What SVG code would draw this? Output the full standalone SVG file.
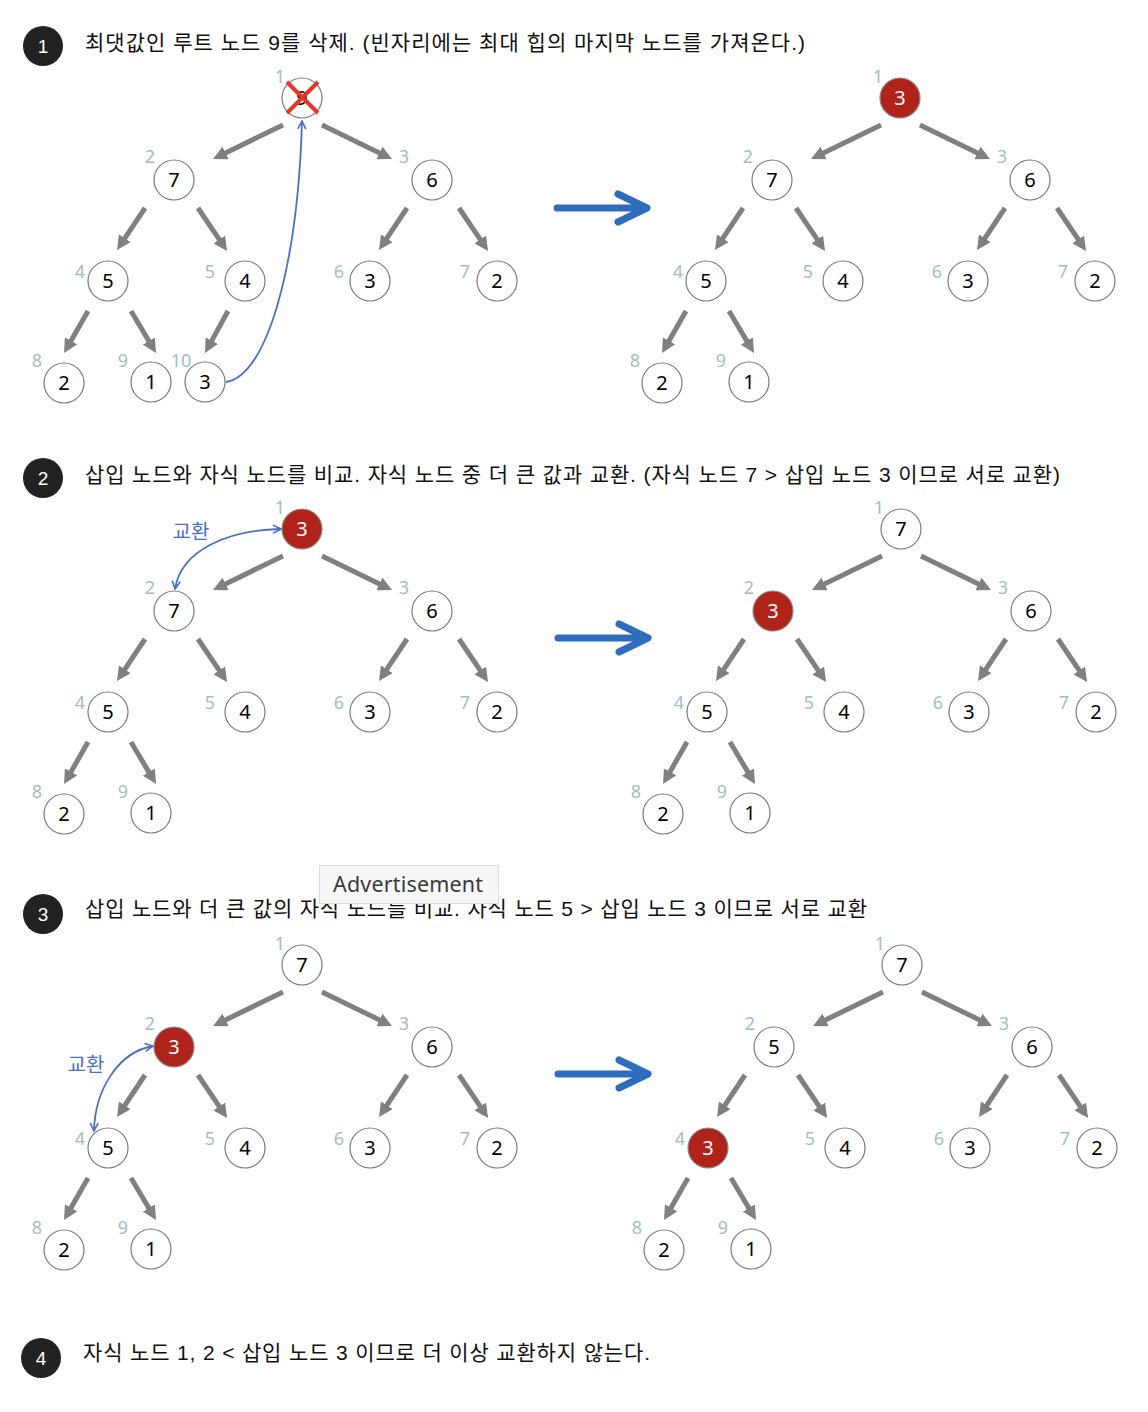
<svg xmlns="http://www.w3.org/2000/svg" width="1148" height="1412" viewBox="0 0 1148 1412">
<style>
.hd{font-family:"Liberation Sans","Noto Sans CJK KR",sans-serif;font-size:21px;fill:#111}
.stp circle{fill:#222}
.stp text{font-family:"Liberation Sans",sans-serif;font-size:19px;fill:#fff;text-anchor:middle}
.nd circle{fill:#fff;stroke:#7a7a7a;stroke-width:1.2}
.nd.red circle{fill:#b0231a;stroke:#8a8a8a}
.nd text.v{font-family:"Noto Sans","Open Sans",sans-serif;font-size:20px;fill:#000;text-anchor:middle}
.nd.red text.v{fill:#fff}
.nd text.i{font-family:"Noto Sans","Open Sans",sans-serif;font-size:18px;fill:#a3bec2;text-anchor:middle}
.ga{stroke:#808080;stroke-width:5;fill:none;marker-end:url(#gah)}
.big{stroke:#2e6dbd;stroke-width:7;fill:none;stroke-linecap:round;stroke-linejoin:round}
.sw{stroke:#4a6fc7;stroke-width:1.8;fill:none}
.swl{font-family:"Noto Sans CJK KR",sans-serif;font-size:20px;fill:#4a6fc7;text-anchor:middle}
</style>
<defs>
<marker id="gah" markerUnits="userSpaceOnUse" viewBox="0 0 14 14" markerWidth="14" markerHeight="14" refX="3" refY="7" orient="auto"><path d="M0,0 L14,7 L0,14 z" fill="#808080"/></marker>
<marker id="bah" markerUnits="userSpaceOnUse" viewBox="0 0 10 10" markerWidth="10" markerHeight="10" refX="9" refY="5" orient="auto-start-reverse"><path d="M1,1 L9,5 L1,9" fill="none" stroke="#4a6fc7" stroke-width="1.6"/></marker>
<g id="edges8">
<line class="ga" x1="283" y1="125" x2="222.9" y2="154.2"/>
<line class="ga" x1="322" y1="125" x2="382.1" y2="154.2"/>
<line class="ga" x1="145" y1="208" x2="123.1" y2="240.8"/>
<line class="ga" x1="198" y1="208" x2="220.9" y2="241.9"/>
<line class="ga" x1="407" y1="208" x2="385.1" y2="240.8"/>
<line class="ga" x1="459" y1="208" x2="481.9" y2="241.9"/>
<line class="ga" x1="88" y1="311" x2="69.5" y2="343.5"/>
<line class="ga" x1="131" y1="311" x2="150.4" y2="343.6"/>
</g>
</defs>

<!-- headers -->
<g id="step1" class="stp"><circle cx="43" cy="46" r="20"/><text x="43" y="53">1</text></g>
<text class="hd" x="85" y="50" textLength="720">최댓값인 루트 노드 9를 삭제. (빈자리에는 최대 힙의 마지막 노드를 가져온다.)</text>
<g id="step2" class="stp"><circle cx="43" cy="478" r="20"/><text x="43" y="485">2</text></g>
<text class="hd" x="85" y="482" textLength="975">삽입 노드와 자식 노드를 비교. 자식 노드 중 더 큰 값과 교환. (자식 노드 7 &gt; 삽입 노드 3 이므로 서로 교환)</text>
<g id="step3" class="stp"><circle cx="43" cy="914" r="20"/><text x="43" y="921">3</text></g>
<text class="hd" x="85" y="916" textLength="782">삽입 노드와 더 큰 값의 자식 노드를 비교. 자식 노드 5 &gt; 삽입 노드 3 이므로 서로 교환</text>
<g id="step4" class="stp"><circle cx="41" cy="1358" r="20"/><text x="41" y="1365">4</text></g>
<text class="hd" x="83" y="1360" textLength="567">자식 노드 1, 2 &lt; 삽입 노드 3 이므로 더 이상 교환하지 않는다.</text>

<!-- connectors -->
<g id="connectors">
<g transform="translate(0,0)"><use href="#edges8"/><line class="ga" x1="228" y1="311" x2="210.3" y2="343.4"/></g>
<g transform="translate(598,0)"><use href="#edges8"/></g>
<g transform="translate(0,431)"><use href="#edges8"/></g>
<g transform="translate(599,431)"><use href="#edges8"/></g>
<g transform="translate(0,867)"><use href="#edges8"/></g>
<g transform="translate(600,867)"><use href="#edges8"/></g>
<path class="sw" d="M226,382 C268,376 298,262 302,121" marker-end="url(#bah)"/>
<path class="sw" d="M175,589 C181,550 228,530 281,529" marker-start="url(#bah)" marker-end="url(#bah)"/>
<path class="sw" d="M153,1046 C118,1052 95,1090 94,1131" marker-start="url(#bah)" marker-end="url(#bah)"/>
<path class="big" d="M557,208 L645,208 M618,194 L647,208 L618,222"/>
<path class="big" d="M558,638 L646,638 M619,624 L648,638 L619,652"/>
<path class="big" d="M558,1074 L646,1074 M619,1060 L648,1074 L619,1088"/>
</g>
<text class="swl" x="191" y="539">교환</text>
<text class="swl" x="86" y="1072">교환</text>

<!-- Section 1 left -->
<g id="tree1a">
<g id="t1a-n1" class="nd"><circle cx="302" cy="98" r="20"/><text class="v" x="302" y="105">9</text><text class="i" x="280" y="83">1</text>
<path d="M287,82 L318,113 M318,82 L287,113" stroke="#e8352a" stroke-width="4" fill="none"/></g>
<g id="t1a-n2" class="nd"><circle cx="174" cy="180" r="20"/><text class="v" x="174" y="187">7</text><text class="i" x="150" y="163">2</text></g>
<g id="t1a-n3" class="nd"><circle cx="432" cy="180" r="20"/><text class="v" x="432" y="187">6</text><text class="i" x="404" y="163">3</text></g>
<g id="t1a-n4" class="nd"><circle cx="108" cy="281" r="20"/><text class="v" x="108" y="288">5</text><text class="i" x="80" y="278">4</text></g>
<g id="t1a-n5" class="nd"><circle cx="245" cy="281" r="20"/><text class="v" x="245" y="288">4</text><text class="i" x="210" y="278">5</text></g>
<g id="t1a-n6" class="nd"><circle cx="370" cy="281" r="20"/><text class="v" x="370" y="288">3</text><text class="i" x="339" y="278">6</text></g>
<g id="t1a-n7" class="nd"><circle cx="497" cy="281" r="20"/><text class="v" x="497" y="288">2</text><text class="i" x="465" y="278">7</text></g>
<g id="t1a-n8" class="nd"><circle cx="64" cy="383" r="20"/><text class="v" x="64" y="390">2</text><text class="i" x="37" y="367">8</text></g>
<g id="t1a-n9" class="nd"><circle cx="151" cy="382" r="20"/><text class="v" x="151" y="389">1</text><text class="i" x="123" y="367">9</text></g>
<g id="t1a-n10" class="nd"><circle cx="205" cy="382" r="20"/><text class="v" x="205" y="389">3</text><text class="i" x="181" y="367">10</text></g>
</g>

<!-- Section 1 right -->
<g id="tree1b" transform="translate(598,0)">
<g id="t1b-n1" class="nd red"><circle cx="302" cy="98" r="20"/><text class="v" x="302" y="105">3</text><text class="i" x="280" y="83">1</text></g>
<g id="t1b-n2" class="nd"><circle cx="174" cy="180" r="20"/><text class="v" x="174" y="187">7</text><text class="i" x="150" y="163">2</text></g>
<g id="t1b-n3" class="nd"><circle cx="432" cy="180" r="20"/><text class="v" x="432" y="187">6</text><text class="i" x="404" y="163">3</text></g>
<g id="t1b-n4" class="nd"><circle cx="108" cy="281" r="20"/><text class="v" x="108" y="288">5</text><text class="i" x="80" y="278">4</text></g>
<g id="t1b-n5" class="nd"><circle cx="245" cy="281" r="20"/><text class="v" x="245" y="288">4</text><text class="i" x="210" y="278">5</text></g>
<g id="t1b-n6" class="nd"><circle cx="370" cy="281" r="20"/><text class="v" x="370" y="288">3</text><text class="i" x="339" y="278">6</text></g>
<g id="t1b-n7" class="nd"><circle cx="497" cy="281" r="20"/><text class="v" x="497" y="288">2</text><text class="i" x="465" y="278">7</text></g>
<g id="t1b-n8" class="nd"><circle cx="64" cy="383" r="20"/><text class="v" x="64" y="390">2</text><text class="i" x="37" y="367">8</text></g>
<g id="t1b-n9" class="nd"><circle cx="151" cy="382" r="20"/><text class="v" x="151" y="389">1</text><text class="i" x="123" y="367">9</text></g>
</g>

<!-- Section 2 left -->
<g id="tree2a" transform="translate(0,431)">
<g id="t2a-n1" class="nd red"><circle cx="302" cy="98" r="20"/><text class="v" x="302" y="105">3</text><text class="i" x="280" y="83">1</text></g>
<g id="t2a-n2" class="nd"><circle cx="174" cy="180" r="20"/><text class="v" x="174" y="187">7</text><text class="i" x="150" y="163">2</text></g>
<g id="t2a-n3" class="nd"><circle cx="432" cy="180" r="20"/><text class="v" x="432" y="187">6</text><text class="i" x="404" y="163">3</text></g>
<g id="t2a-n4" class="nd"><circle cx="108" cy="281" r="20"/><text class="v" x="108" y="288">5</text><text class="i" x="80" y="278">4</text></g>
<g id="t2a-n5" class="nd"><circle cx="245" cy="281" r="20"/><text class="v" x="245" y="288">4</text><text class="i" x="210" y="278">5</text></g>
<g id="t2a-n6" class="nd"><circle cx="370" cy="281" r="20"/><text class="v" x="370" y="288">3</text><text class="i" x="339" y="278">6</text></g>
<g id="t2a-n7" class="nd"><circle cx="497" cy="281" r="20"/><text class="v" x="497" y="288">2</text><text class="i" x="465" y="278">7</text></g>
<g id="t2a-n8" class="nd"><circle cx="64" cy="383" r="20"/><text class="v" x="64" y="390">2</text><text class="i" x="37" y="367">8</text></g>
<g id="t2a-n9" class="nd"><circle cx="151" cy="382" r="20"/><text class="v" x="151" y="389">1</text><text class="i" x="123" y="367">9</text></g>
</g>

<!-- Section 2 right -->
<g id="tree2b" transform="translate(599,431)">
<g id="t2b-n1" class="nd"><circle cx="302" cy="98" r="20"/><text class="v" x="302" y="105">7</text><text class="i" x="280" y="83">1</text></g>
<g id="t2b-n2" class="nd red"><circle cx="174" cy="180" r="20"/><text class="v" x="174" y="187">3</text><text class="i" x="150" y="163">2</text></g>
<g id="t2b-n3" class="nd"><circle cx="432" cy="180" r="20"/><text class="v" x="432" y="187">6</text><text class="i" x="404" y="163">3</text></g>
<g id="t2b-n4" class="nd"><circle cx="108" cy="281" r="20"/><text class="v" x="108" y="288">5</text><text class="i" x="80" y="278">4</text></g>
<g id="t2b-n5" class="nd"><circle cx="245" cy="281" r="20"/><text class="v" x="245" y="288">4</text><text class="i" x="210" y="278">5</text></g>
<g id="t2b-n6" class="nd"><circle cx="370" cy="281" r="20"/><text class="v" x="370" y="288">3</text><text class="i" x="339" y="278">6</text></g>
<g id="t2b-n7" class="nd"><circle cx="497" cy="281" r="20"/><text class="v" x="497" y="288">2</text><text class="i" x="465" y="278">7</text></g>
<g id="t2b-n8" class="nd"><circle cx="64" cy="383" r="20"/><text class="v" x="64" y="390">2</text><text class="i" x="37" y="367">8</text></g>
<g id="t2b-n9" class="nd"><circle cx="151" cy="382" r="20"/><text class="v" x="151" y="389">1</text><text class="i" x="123" y="367">9</text></g>
</g>

<!-- Section 3 left -->
<g id="tree3a" transform="translate(0,867)">
<g id="t3a-n1" class="nd"><circle cx="302" cy="98" r="20"/><text class="v" x="302" y="105">7</text><text class="i" x="280" y="83">1</text></g>
<g id="t3a-n2" class="nd red"><circle cx="174" cy="180" r="20"/><text class="v" x="174" y="187">3</text><text class="i" x="150" y="163">2</text></g>
<g id="t3a-n3" class="nd"><circle cx="432" cy="180" r="20"/><text class="v" x="432" y="187">6</text><text class="i" x="404" y="163">3</text></g>
<g id="t3a-n4" class="nd"><circle cx="108" cy="281" r="20"/><text class="v" x="108" y="288">5</text><text class="i" x="80" y="278">4</text></g>
<g id="t3a-n5" class="nd"><circle cx="245" cy="281" r="20"/><text class="v" x="245" y="288">4</text><text class="i" x="210" y="278">5</text></g>
<g id="t3a-n6" class="nd"><circle cx="370" cy="281" r="20"/><text class="v" x="370" y="288">3</text><text class="i" x="339" y="278">6</text></g>
<g id="t3a-n7" class="nd"><circle cx="497" cy="281" r="20"/><text class="v" x="497" y="288">2</text><text class="i" x="465" y="278">7</text></g>
<g id="t3a-n8" class="nd"><circle cx="64" cy="383" r="20"/><text class="v" x="64" y="390">2</text><text class="i" x="37" y="367">8</text></g>
<g id="t3a-n9" class="nd"><circle cx="151" cy="382" r="20"/><text class="v" x="151" y="389">1</text><text class="i" x="123" y="367">9</text></g>
</g>

<!-- Section 3 right -->
<g id="tree3b" transform="translate(600,867)">
<g id="t3b-n1" class="nd"><circle cx="302" cy="98" r="20"/><text class="v" x="302" y="105">7</text><text class="i" x="280" y="83">1</text></g>
<g id="t3b-n2" class="nd"><circle cx="174" cy="180" r="20"/><text class="v" x="174" y="187">5</text><text class="i" x="150" y="163">2</text></g>
<g id="t3b-n3" class="nd"><circle cx="432" cy="180" r="20"/><text class="v" x="432" y="187">6</text><text class="i" x="404" y="163">3</text></g>
<g id="t3b-n4" class="nd red"><circle cx="108" cy="281" r="20"/><text class="v" x="108" y="288">3</text><text class="i" x="80" y="278">4</text></g>
<g id="t3b-n5" class="nd"><circle cx="245" cy="281" r="20"/><text class="v" x="245" y="288">4</text><text class="i" x="210" y="278">5</text></g>
<g id="t3b-n6" class="nd"><circle cx="370" cy="281" r="20"/><text class="v" x="370" y="288">3</text><text class="i" x="339" y="278">6</text></g>
<g id="t3b-n7" class="nd"><circle cx="497" cy="281" r="20"/><text class="v" x="497" y="288">2</text><text class="i" x="465" y="278">7</text></g>
<g id="t3b-n8" class="nd"><circle cx="64" cy="383" r="20"/><text class="v" x="64" y="390">2</text><text class="i" x="37" y="367">8</text></g>
<g id="t3b-n9" class="nd"><circle cx="151" cy="382" r="20"/><text class="v" x="151" y="389">1</text><text class="i" x="123" y="367">9</text></g>
</g>

<!-- Advertisement overlay -->
<g id="ad">
<rect x="319.5" y="865.5" width="179" height="38" fill="#f7f7f7" stroke="#dcdcdc" stroke-width="1"/>
<text x="333" y="892" font-family="'Noto Sans','Open Sans',sans-serif" font-size="21.5" fill="#3a3a3a" textLength="150">Advertisement</text>
</g>
</svg>
